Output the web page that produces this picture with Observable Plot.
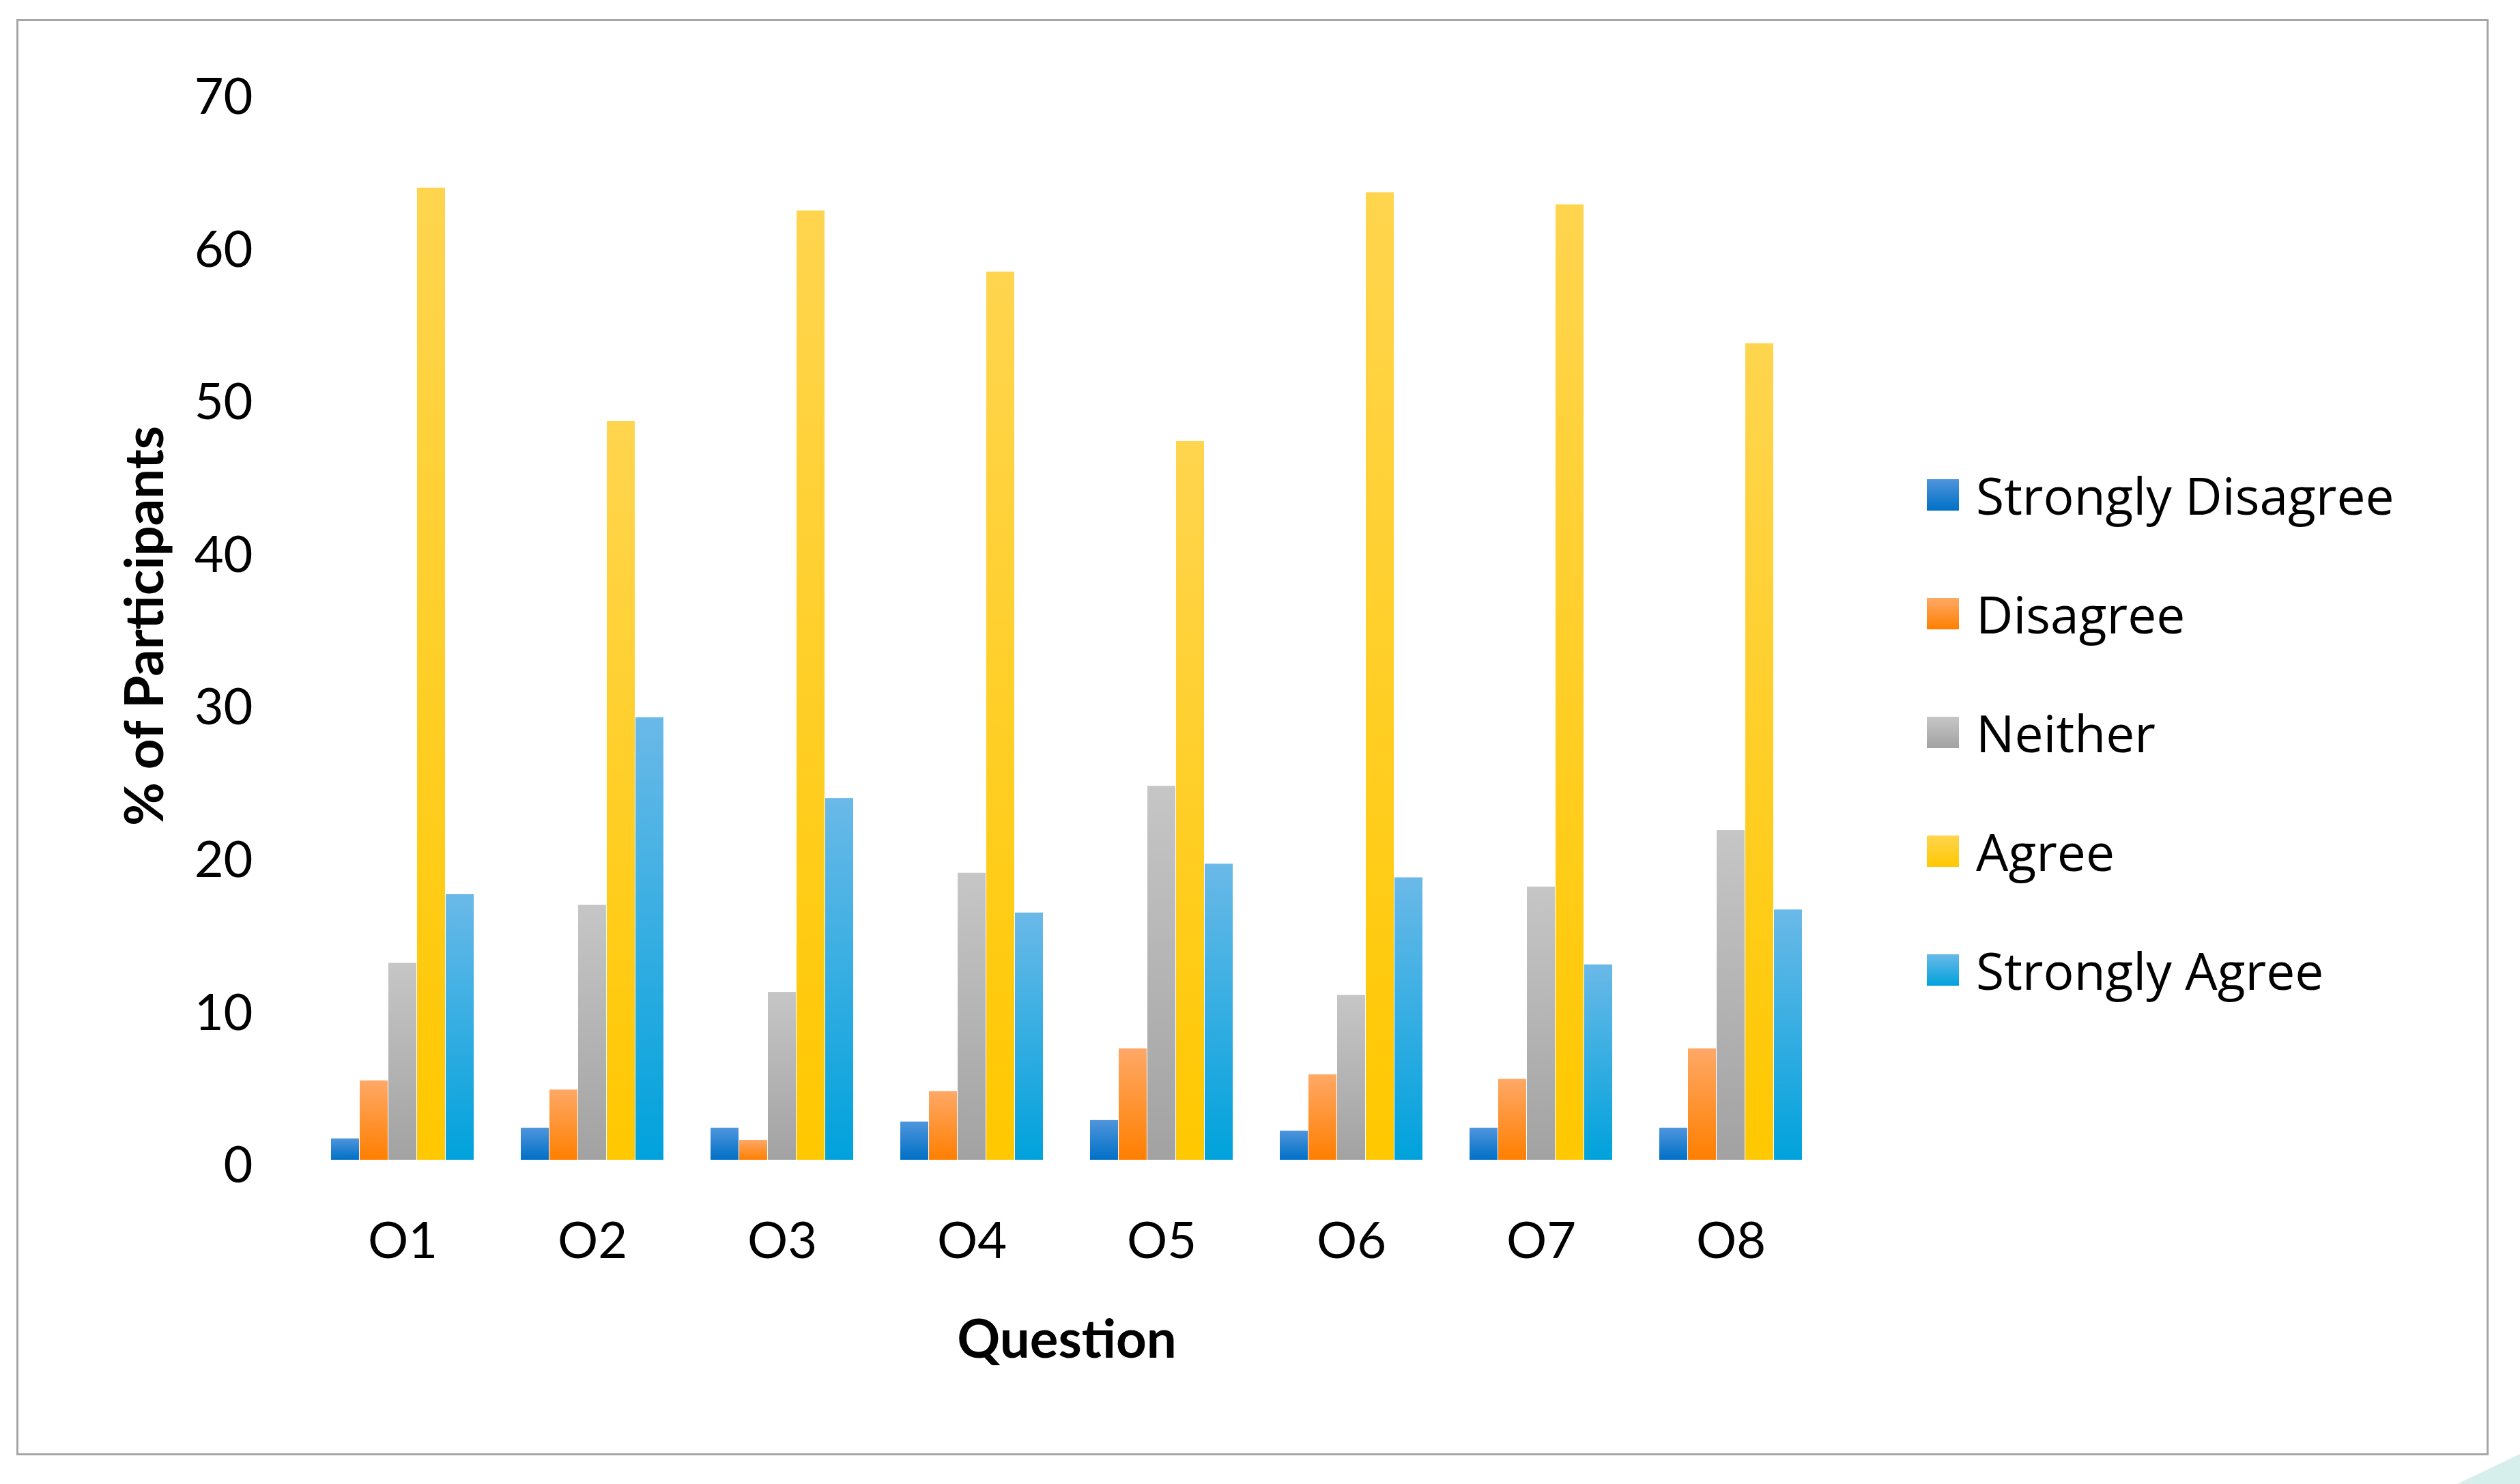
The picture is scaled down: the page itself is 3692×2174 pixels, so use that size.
<!DOCTYPE html>
<html>
<head>
<meta charset="utf-8">
<script src="https://cdn.jsdelivr.net/npm/d3@7"></script>
<script src="https://cdn.jsdelivr.net/npm/@observablehq/plot@0.6"></script>
<style>
html, body { margin: 0; padding: 0; background: #fff; }
#wrap { position: relative; width: 3692px; height: 2174px; overflow: hidden; background: #fff; }
#border { position: absolute; left: 24px; top: 28px; width: 3622px; height: 2104px; border: 3px solid #a6a6a6; box-sizing: border-box; pointer-events: none; }
#corner { position: absolute; left: 3600px; top: 2130px; width: 0; height: 0; border-left: 92px solid transparent; border-bottom: 44px solid #d6efec; }
#chart { position: absolute; left: 0; top: 0; }
#legend { position: absolute; left: 2823px; top: 0; font-family: "Open Sans", sans-serif; font-size: 75px; color: #000; }
.item { position: absolute; left: 0; height: 110px; display: flex; align-items: center; white-space: nowrap; }
.sw { width: 47px; height: 46px; margin-right: 25px; flex: none; }
svg [aria-label="y-axis label"] text, svg [aria-label="fx-axis label"] text { font-weight: bold; font-size: 78px; }
</style>
</head>
<body>
<div id="wrap">
  <div id="chart"></div>
  <div id="legend"></div>
  <div id="border"></div>
  <div id="corner"></div>
</div>
<script>
// ---- data ----
const questions = ["O1", "O2", "O3", "O4", "O5", "O6", "O7", "O8"];
const series = ["Strongly Disagree", "Disagree", "Neither", "Agree", "Strongly Agree"];
const stronglyDisagree = [1.4, 2.1, 2.1, 2.5, 2.6, 1.9, 2.1, 2.1];
const disagree         = [5.2, 4.6, 1.3, 4.5, 7.3, 5.6, 5.3, 7.3];
const neither          = [12.9, 16.7, 11.0, 18.8, 24.5, 10.8, 17.9, 21.6];
const agree            = [63.7, 48.4, 62.2, 58.2, 47.1, 63.4, 62.6, 53.5];
const stronglyAgree    = [17.4, 29.0, 23.7, 16.2, 19.4, 18.5, 12.8, 16.4];
const yTicks = [0, 10, 20, 30, 40, 50, 60, 70];

// ---- styles ----
const gradients = [
  {id: "g-sd", top: "#4f95dc", bottom: "#0070c6"},
  {id: "g-d",  top: "#ffa866", bottom: "#ff7f00"},
  {id: "g-n",  top: "#c6c6c6", bottom: "#a2a2a2"},
  {id: "g-a",  top: "#ffd54f", bottom: "#ffc800"},
  {id: "g-sa", top: "#6ab9e8", bottom: "#00a2dc"}
];

const valuesBySeries = [stronglyDisagree, disagree, neither, agree, stronglyAgree];
const table = [];
questions.forEach((q, i) => {
  series.forEach((s, j) => table.push({question: q, series: s, value: valuesBySeries[j][i]}));
});

const plot = Plot.plot({
  width: 3692,
  height: 2174,
  marginLeft: 483,
  marginRight: 1050,
  marginTop: 134,
  marginBottom: 475,
  style: {fontFamily: "Lato, sans-serif", fontSize: "74px", color: "#000", background: "transparent"},
  fx: {domain: questions, paddingInner: 0.234, paddingOuter: 0, label: null},
  x: {domain: series, padding: 0.02, axis: null},
  y: {domain: [0, 70], label: null},
  color: {domain: series, range: gradients.map(g => `url(#${g.id})`)},
  marks: [
    Plot.barY(table, {fx: "question", x: "series", y: "value", fill: "series"}),
    Plot.axisFx({anchor: "bottom", tickSize: 0, tickPadding: 91, label: "Question", labelAnchor: "center", labelArrow: "none", labelOffset: 289}),
    Plot.axisY(yTicks, {anchor: "left", tickSize: 0, tickPadding: 113, dy: 9, label: "% of Participants", labelAnchor: "center", labelArrow: "none", labelOffset: 300})
  ]
});

// gradient definitions
const svg = d3.select(plot);
const defs = svg.insert("defs", ":first-child");
gradients.forEach(g => {
  const lg = defs.append("linearGradient").attr("id", g.id).attr("x1", 0).attr("y1", 0).attr("x2", 0).attr("y2", 1);
  lg.append("stop").attr("offset", "0%").attr("stop-color", g.top);
  lg.append("stop").attr("offset", "100%").attr("stop-color", g.bottom);
});
document.getElementById("chart").appendChild(plot);

// legend
const legend = document.getElementById("legend");
series.forEach((s, j) => {
  const item = document.createElement("div");
  item.className = "item";
  item.style.top = (725 + j * 174 - 55) + "px";
  const sw = document.createElement("div");
  sw.className = "sw";
  sw.style.background = `linear-gradient(${gradients[j].top}, ${gradients[j].bottom})`;
  const label = document.createElement("span");
  label.textContent = s;
  item.appendChild(sw);
  item.appendChild(label);
  legend.appendChild(item);
});
</script>
</body>
</html>
